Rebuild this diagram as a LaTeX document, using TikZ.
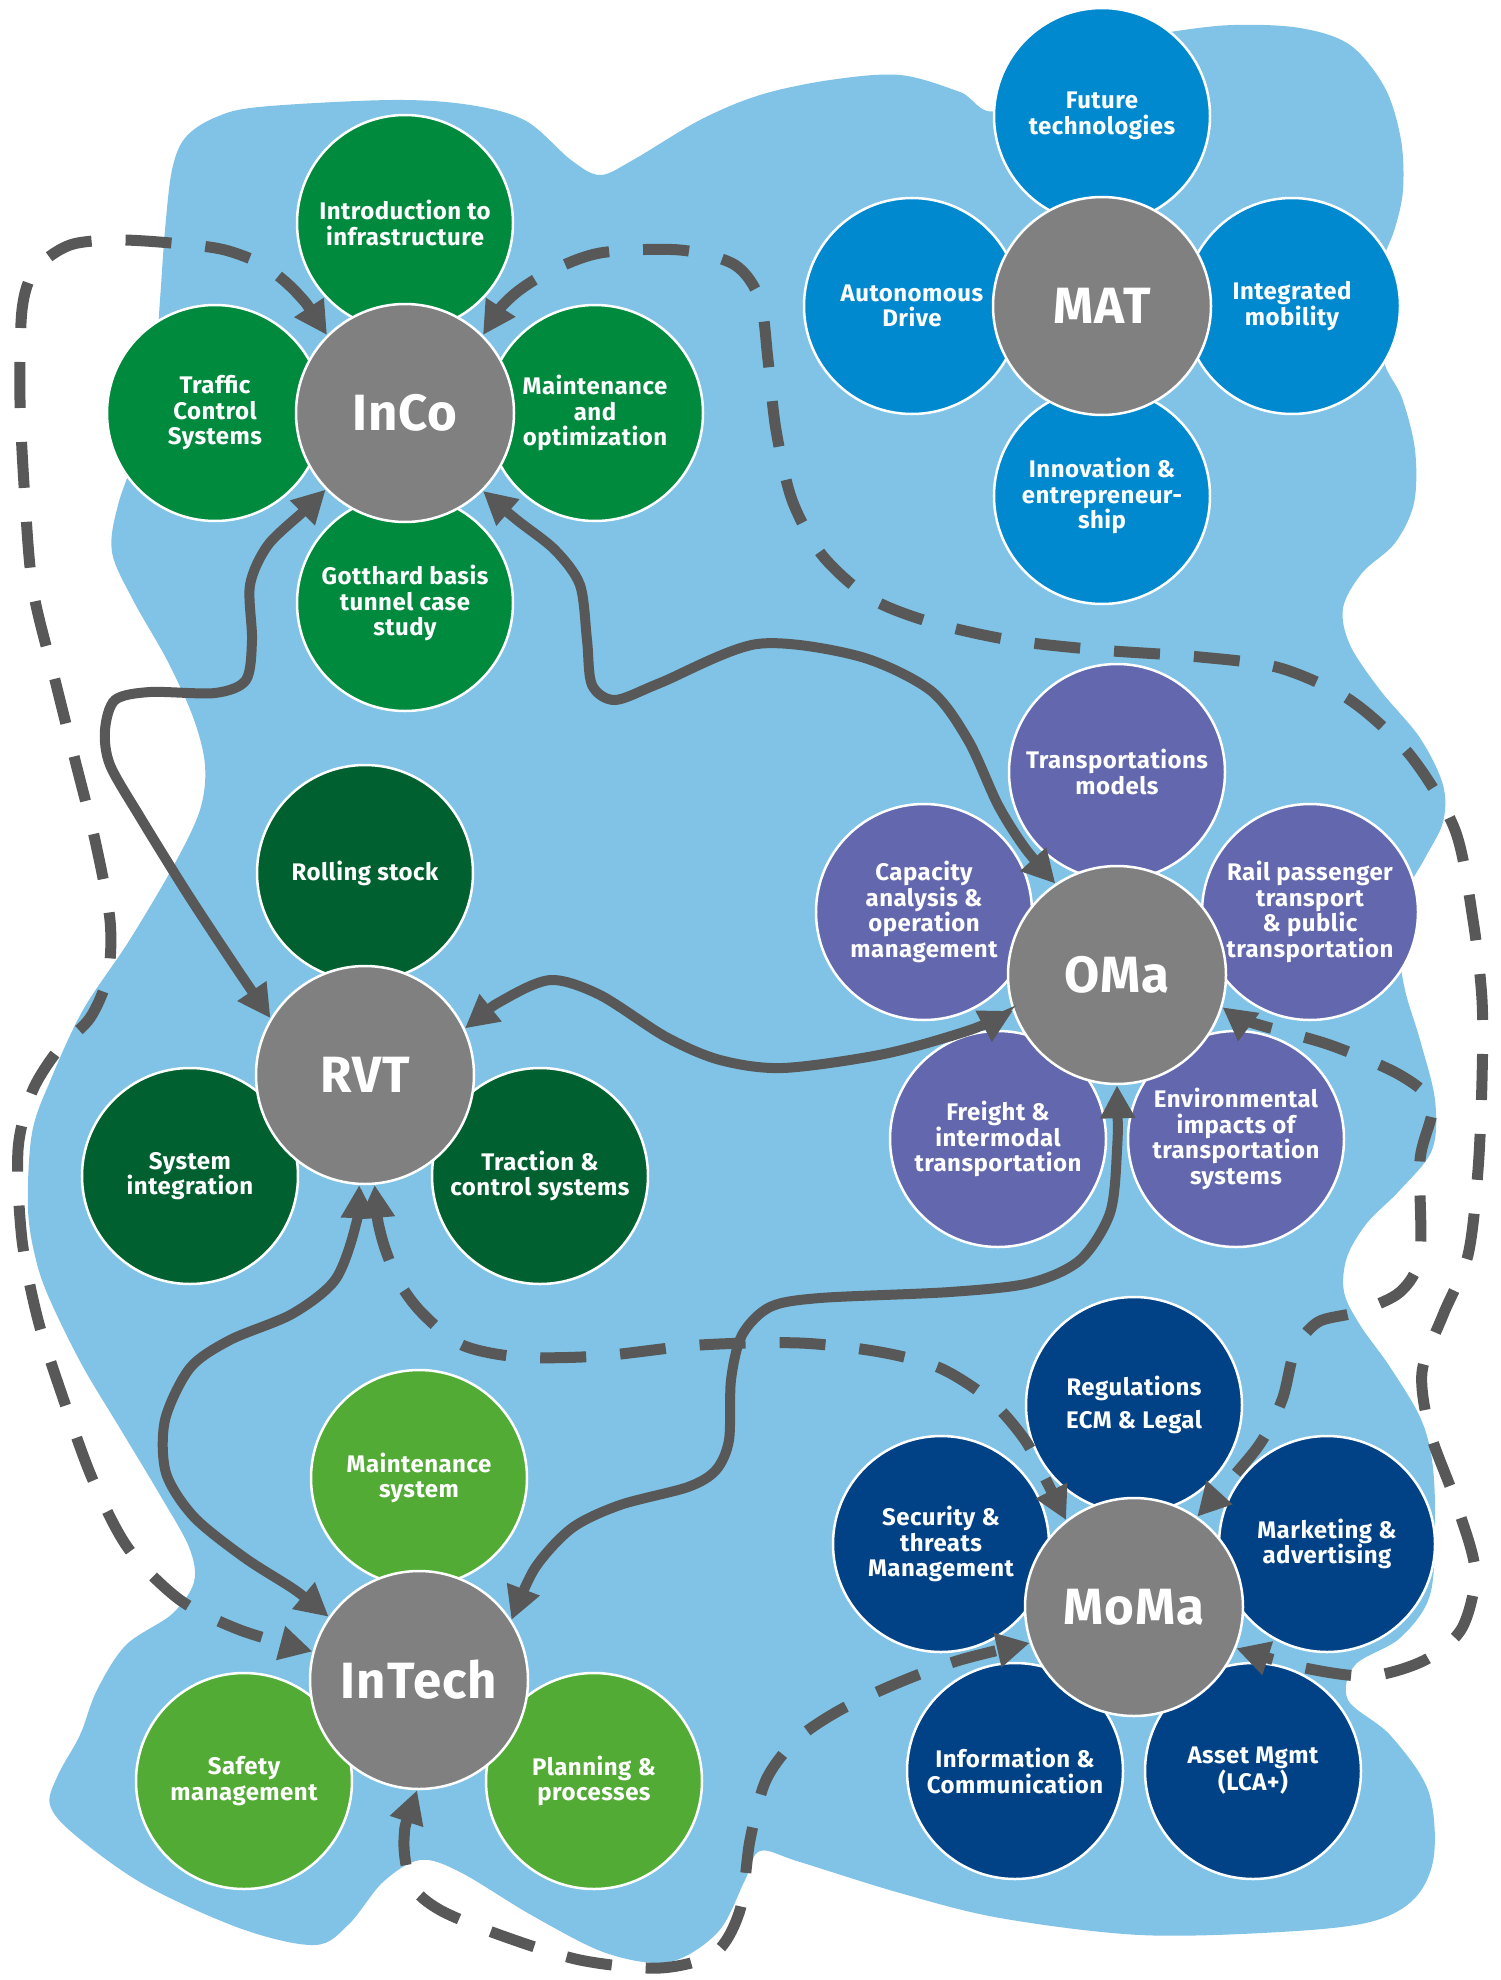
\documentclass[tikz,border=0pt]{standalone}
\usepackage{fontspec}
\setmainfont{Fira Sans}[LetterSpace=2]
\usetikzlibrary{arrows.meta}

\definecolor{blobblue}{RGB}{128,195,230}
\definecolor{hubgray}{RGB}{128,128,128}
\definecolor{linkgray}{RGB}{88,88,88}
\definecolor{incogreen}{RGB}{0,138,62}
\definecolor{matblue}{RGB}{0,137,207}
\definecolor{omapurple}{RGB}{99,103,174}
\definecolor{rvtgreen}{RGB}{0,96,48}
\definecolor{intechgreen}{RGB}{82,171,52}
\definecolor{momanavy}{RGB}{0,66,133}

\begin{document}
\begin{tikzpicture}[x=1pt,y=-1pt,
  hub/.style={circle, minimum size=218pt, inner sep=0pt, fill=hubgray,
    draw=white, line width=2.5pt, text=white,
    font=\fontsize{51}{55}\selectfont\bfseries},
  topic/.style={circle, minimum size=216pt, inner sep=0pt, draw=white,
    line width=2.5pt, text=white, align=center,
    font=\fontsize{24}{25.5}\selectfont\bfseries},
  tip/.tip={Triangle[length=33pt,width=33pt]},
  link/.style={draw=linkgray, line width=10pt, tip-tip},
  dlink/.style={link, line width=11pt, dash pattern=on 46pt off 34pt},
]
\useasboundingbox (0,0) rectangle (1501,1980);
\fill[white] (0,0) rectangle (1501,1980);

% light blue background shape
\fill[blobblue] plot[smooth cycle, tension=0.55] coordinates {
 (214,118) (259,107) (392,100) (470,105) (526,121) (571,160) (600,175)
 (633,160) (700,120) (760,95) (830,80) (900,75) (960,92) (1000,110)
 (1100,45) (1170,32) (1233,25) (1300,28) (1350,45) (1385,88) (1401,140)
 (1403,190) (1395,228) (1382,265) (1378,320) (1385,365) (1402,398)
 (1415,450) (1414,503) (1395,543) (1362,573) (1343,608) (1350,645)
 (1380,690) (1420,738) (1443,785) (1443,822) (1425,858) (1405,895)
 (1398,940) (1405,990) (1420,1040) (1435,1100) (1432,1150) (1400,1190)
 (1367,1223) (1347,1257) (1344,1292) (1360,1325) (1390,1367) (1420,1417)
 (1432,1460) (1435,1520) (1430,1595) (1400,1638) (1355,1665) (1348,1700)
 (1390,1735) (1428,1790) (1434,1855) (1415,1898) (1370,1922) (1280,1932)
 (1140,1935) (1000,1918) (900,1893) (800,1862) (760,1851) (745,1880)
 (718,1932) (669,1962) (606,1953) (533,1916) (460,1872) (420,1860)
 (383,1882) (349,1924) (315,1945) (242,1929) (145,1885) (75,1835)
 (50,1805) (58,1775) (80,1735) (97,1690) (126,1645) (172,1614) (194,1582)
 (189,1547) (160,1495) (121,1430) (82,1365) (50,1300) (36,1260) (28,1209)
 (32,1133) (51,1079) (83,1010) (129,941) (174,865) (200,810) (205,765)
 (193,717) (167,660) (133,600) (112,552) (118,505) (140,440) (155,360)
 (160,300) (165,230) (172,170) (185,138)};

% InCo
\node[topic, fill=incogreen] (intro)    at (405,223) {Introduction to\\infrastructure};
\node[topic, fill=incogreen] (traffic)  at (215,413) {Traffic\\Control\\Systems};
\node[topic, fill=incogreen] (maintopt) at (595,413) {Maintenance\\and\\optimization};
\node[topic, fill=incogreen] (gotthard) at (405,603) {Gotthard basis\\tunnel case\\study};
\node[hub] (inco) at (405,413) {InCo};

% MAT
\node[topic, fill=matblue] (future) at (1102,116) {Future\\technologies};
\node[topic, fill=matblue] (autodrive) at (912,306) {Autonomous\\Drive};
\node[topic, fill=matblue] (integr) at (1292,306) {Integrated\\mobility};
\node[topic, fill=matblue] (innov) at (1102,496) {Innovation \&\\entrepreneur-\\ship};
\node[hub] (mat) at (1102,306) {MAT};

% OMa
\node[topic, fill=omapurple] (tmodels)  at (1117,772) {Transportations\\models};
\node[topic, fill=omapurple] (capacity) at (924,912) {Capacity\\analysis \&\\operation\\management};
\node[topic, fill=omapurple] (railpass) at (1310,912) {Rail passenger\\transport\\\& public\\transportation};
\node[topic, fill=omapurple] (freight)  at (998,1139) {Freight \&\\intermodal\\transportation};
\node[topic, fill=omapurple] (environ)  at (1236,1139) {Environmental\\impacts of\\transportation\\systems};
\node[hub] (oma) at (1117,975) {OMa};

% RVT
\node[topic, fill=rvtgreen] (rolling)  at (365,873) {Rolling stock};
\node[topic, fill=rvtgreen] (sysint)   at (190,1176) {System\\integration};
\node[topic, fill=rvtgreen] (traction) at (540,1176) {Traction \&\\control systems};
\node[hub] (rvt) at (365,1075) {RVT};

% InTech
\node[topic, fill=intechgreen] (maintsys) at (419,1478) {Maintenance\\system};
\node[topic, fill=intechgreen] (safety)   at (244,1781) {Safety\\management};
\node[topic, fill=intechgreen] (planning) at (594,1781) {Planning \&\\processes};
\node[hub] (intech) at (419,1680) {InTech};

% MoMa
\node[topic, fill=momanavy] (regul)     at (1134,1405) {Regulations\\[7pt]ECM \& Legal};
\node[topic, fill=momanavy] (security)  at (941,1544) {Security \&\\threats\\Management};
\node[topic, fill=momanavy] (marketing) at (1327,1544) {Marketing \&\\advertising};
\node[topic, fill=momanavy] (infocomm)  at (1015,1771) {Information \&\\Communication};
\node[topic, fill=momanavy] (asset)     at (1253,1771) {Asset Mgmt\\(LCA+)};
\node[hub] (moma) at (1134,1607) {MoMa};

% solid links
\draw[link] plot[smooth, tension=0.5] coordinates {(inco.224) (305,510) (268,545)
  (250,585) (252,640) (246,680) (215,693) (150,692) (115,700) (105,730)
  (110,765) (140,817) (187,893) (233,963) (rvt.149)};
\draw[link] plot[smooth, tension=0.5] coordinates {(inco.315) (517,520) (555,550)
  (580,585) (587,640) (592,685) (615,700) (660,683) (757,644) (858,656)
  (930,690) (968,740) (998,805) (1025,848) (oma.124)};
\draw[link] plot[smooth, tension=0.5] coordinates {(rvt.25) (505,999) (551,980)
  (600,995) (666,1037) (720,1060) (783,1068) (884,1054) (970,1030) (oma.199)};
\draw[link] plot[smooth, tension=0.5] coordinates {(rvt.267) (355,1228) (335,1280)
  (292,1314) (230,1340) (190,1368) (165,1420) (166,1473) (194,1517)
  (245,1558) (295,1590) (intech.145)};
\draw[link] plot[smooth, tension=0.5] coordinates {(oma.270) (1117,1150) (1110,1213)
  (1080,1260) (1030,1283) (950,1292) (820,1298) (770,1307) (742,1335)
  (731,1380) (729,1440) (716,1470) (688,1487) (620,1505) (572,1528)
  (535,1568) (intech.33)};

% dashed links
\draw[dlink] plot[smooth, tension=0.5] coordinates {(inco.135) (297,293) (263,265)
  (225,250) (182,244) (120,240) (70,245) (35,270) (22,310) (20,400) (25,500)
  (33,590) (55,680) (75,760) (95,840) (110,920) (108,975) (90,1018) (58,1050)
  (32,1092) (18,1150) (22,1240) (38,1320) (62,1395) (92,1478) (128,1548)
  (180,1600) (240,1630) (intech.165)};
\draw[dlink] plot[smooth, tension=0.5] coordinates {(inco.45) (510,298) (547,273)
  (600,253) (680,250) (735,265) (760,300) (768,360) (776,430) (792,500)
  (822,555) (870,598) (930,622) (1010,640) (1100,650) (1200,657) (1280,668)
  (1350,700) (1410,755) (1455,830) (1473,920) (1482,1000) (1482,1080)
  (1478,1170) (1468,1255) (1443,1315) (1422,1372) (1430,1432) (1455,1500)
  (1475,1570) (1462,1628) (1425,1660) (1370,1676) (1305,1668) (moma.338)};
\draw[dlink] plot[smooth, tension=0.5] coordinates {(oma.343) (1250,1022)
  (1330,1045) (1400,1075) (1432,1105) (1420,1160) (1420,1255) (1400,1292)
  (1357,1312) (1318,1322) (1295,1350) (1282,1400) (1257,1448) (moma.55)};
\draw[dlink] plot[smooth, tension=0.5] coordinates {(rvt.275) (381,1235) (398,1280)
  (422,1313) (462,1345) (520,1357) (600,1356) (700,1345) (800,1343)
  (880,1352) (940,1368) (990,1400) (1025,1440) (1047,1482) (moma.128)};
\draw[dlink] plot[smooth, tension=0.5] coordinates {(intech.269) (404,1840)
  (412,1885) (440,1910) (500,1935) (580,1960) (660,1968) (715,1953)
  (740,1910) (750,1840) (766,1780) (796,1740) (840,1710) (900,1682)
  (960,1660) (moma.199)};
\end{tikzpicture}
\end{document}
